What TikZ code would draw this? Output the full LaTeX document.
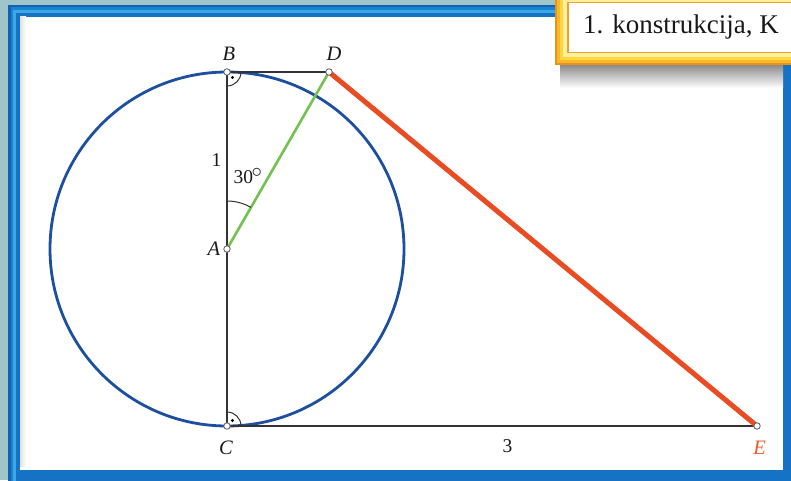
\documentclass[tikz,border=0pt]{standalone}
\usepackage{fontspec}
\setmainfont{Liberation Serif}
\usetikzlibrary{angles,calc}
\definecolor{bgteal}{HTML}{9EC6CA}
\definecolor{fr1}{HTML}{1560B0}
\definecolor{fr2}{HTML}{1A84D4}
\definecolor{fr3}{HTML}{3DA8E6}
\definecolor{fr4}{HTML}{1672C4}
\definecolor{circblue}{HTML}{1D4F9F}
\definecolor{segred}{HTML}{E94B22}
\definecolor{labred}{HTML}{EF5A2A}
\definecolor{seggreen}{HTML}{74C050}
\definecolor{ink}{HTML}{333333}
\definecolor{or1}{HTML}{E8921A}
\definecolor{or2}{HTML}{F7B92A}
\definecolor{or3}{HTML}{FFD640}
\definecolor{or4}{HTML}{FFF0A0}
\definecolor{or5}{HTML}{F0A030}
\tikzset{
  seg/.style={draw=ink, line width=1.6pt},
  circ/.style={draw=circblue, line width=2.8pt},
  grn/.style={draw=seggreen, line width=2.6pt},
  redseg/.style={draw=segred, line width=5pt},
  pt/.style={circle, draw=black!65, fill=white, line width=0.8pt, inner sep=0pt, minimum size=6.5pt},
  lab/.style={font=\fontsize{20.5}{24}\selectfont\itshape, text=black!90, anchor=base, inner sep=0pt},
  num/.style={font=\fontsize{19.5}{23}\selectfont, text=black!90, inner sep=0pt},
  anglemark/.style={draw=ink, line width=1pt}
}
\begin{document}
\begin{tikzpicture}[x=1pt,y=1pt]
\useasboundingbox (0,0) rectangle (791,480);
% background and frame
\fill[bgteal] (0,0) rectangle (791,480);
\fill[fr1] (8,-10) rectangle (810,475);
\fill[fr2] (10.5,-10) rectangle (810,472.5);
\fill[fr3] (13,-10) rectangle (810,470);
\fill[fr4] (16,-10) rectangle (810,467);
\fill[white] (20,10) rectangle (783,463);
\shade[left color=black!12, right color=white] (20,14) rectangle (26,463);
% label box
\shade[top color=black!45, bottom color=white] (560,392) rectangle (783,415);
\fill[or1] (555,415) rectangle (800,495);
\fill[or2] (557,417) rectangle (800,495);
\fill[or3] (559.5,419.5) rectangle (800,495);
\fill[or4] (563,423) rectangle (800,495);
\fill[or5] (566.5,426.5) rectangle (800,478);
\fill[white] (569,428) rectangle (800,477);
\node[anchor=base west, inner sep=0pt, font=\fontsize{27}{30}\selectfont, text=black!90] (title) at (583,446) {1. konstrukcija, K};
% points
\coordinate (A) at (227,231);
\coordinate (B) at (227,408);
\coordinate (C) at (227,54);
\coordinate (D) at (329,408);
\coordinate (E) at (757,54);
% figure
\draw[circ] (A) circle[radius=177pt];
\draw[seg] (B) -- (C);
\draw[seg] (B) -- (D);
\draw[seg] (C) -- (E);
\draw[grn] (A) -- (D);
\draw[redseg, line cap=round] (D) -- (E);
\pic[anglemark, angle radius=14pt] {angle = C--B--D};
\pic[anglemark, angle radius=14pt] {angle = E--C--B};
\pic[anglemark, angle radius=48pt] {angle = D--A--B};
\fill[black] ($(B)+(5.5,-5.5)$) circle[radius=1.7pt];
\fill[black] ($(C)+(5.5,5.5)$) circle[radius=1.7pt];
\node[pt] (mA) at (A) {};
\node[pt] (mB) at (B) {};
\node[pt] (mC) at (C) {};
\node[pt] (mD) at (D) {};
\node[pt] (mE) at (E) {};
% labels
\node[lab] (lB) at (229,419) {B};
\node[lab] (lD) at (334,419) {D};
\node[lab] (lA) at (214,225) {A};
\node[lab] (lC) at (226,26) {C};
\node[lab, text=labred] (lE) at (759.5,26) {E};
\node[num, anchor=base] (one) at (216.5,313) {1};
\node[num, anchor=base west] (ang) at (233.5,297) {30\kern-0.08em\raisebox{0.3em}{$\circ$}};
\node[num, anchor=base] (three) at (507.5,28) {3};
\end{tikzpicture}
\end{document}
